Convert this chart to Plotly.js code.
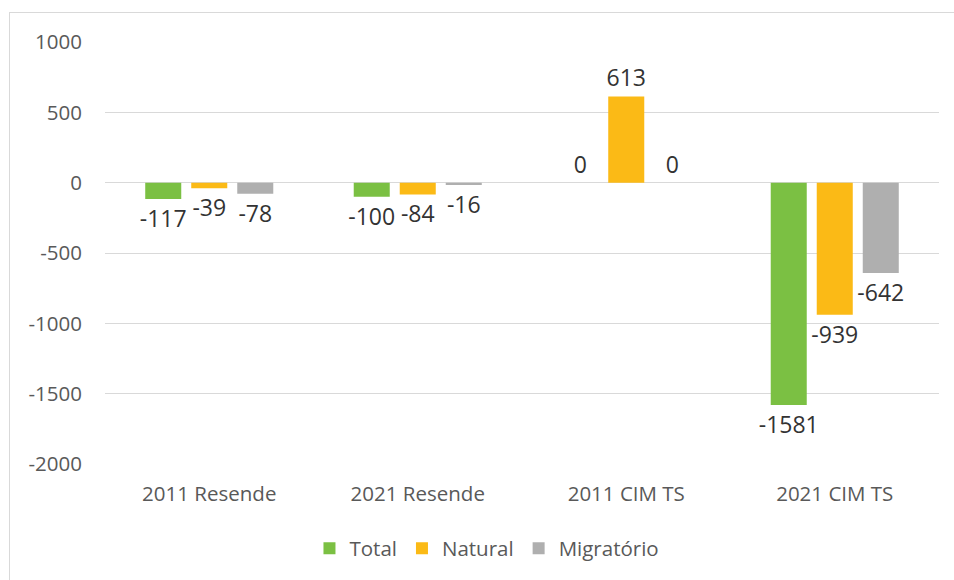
<!DOCTYPE html>
<html>
<head>
<meta charset="utf-8">
<script src="https://cdn.plot.ly/plotly-3.0.1.min.js"></script>
<style>
  html, body { margin: 0; padding: 0; background: #fff; }
  #chart { width: 954px; height: 580px; }
  #frame { position: absolute; left: 9px; top: 12px; width: 960px; height: 600px;
           border: 1px solid #d9d9d9; pointer-events: none; }
</style>
</head>
<body>
<div id="chart"></div>
<div id="frame"></div>
<script>
const categories = ["2011 Resende", "2021 Resende", "2011 CIM TS", "2021 CIM TS"];
const totalValues = [-117, -100, 0, -1581];
const naturalValues = [-39, -84, 613, -939];
const migratorioValues = [-78, -16, 0, -642];
const seriesNames = ["Total", "Natural", "Migratório"];
const yTicks = [-2000, -1500, -1000, -500, 0, 500, 1000];

const colors = ["#7bc043", "#fbba16", "#afafaf"];
const seriesValues = [totalValues, naturalValues, migratorioValues];
const FONT = "'Open Sans', 'Noto Sans', sans-serif";

const traces = seriesValues.map((vals, i) => ({
  type: "bar",
  name: seriesNames[i],
  x: categories,
  y: vals,
  marker: { color: colors[i] },
  text: vals.map(v => String(v)),
  textposition: "outside",
  constraintext: "none",
  cliponaxis: false,
  textfont: { family: FONT, size: 23, color: "#333333" },
  hoverinfo: "x+y+name"
}));

const layout = {
  width: 954, height: 580,
  margin: { l: 105, r: 15, t: 42, b: 116 },
  paper_bgcolor: "#ffffff",
  plot_bgcolor: "#ffffff",
  barmode: "group",
  bargap: 0.338,
  bargroupgap: 0.217,
  font: { family: FONT, color: "#595959" },
  xaxis: {
    type: "category",
    showgrid: false,
    showline: false,
    zeroline: false,
    ticks: "",
    tickfont: { size: 20.5, color: "#595959" },
    ticklabelstandoff: 15
  },
  yaxis: {
    range: [-2000, 1000],
    tickvals: yTicks,
    ticktext: yTicks.map(String),
    showgrid: true,
    gridcolor: "#d9d9d9",
    gridwidth: 1,
    zeroline: true,
    zerolinecolor: "#d9d9d9",
    zerolinewidth: 1,
    showline: false,
    ticks: "",
    tickfont: { size: 20.5, color: "#595959" },
    ticklabelstandoff: 22
  },
  legend: {
    orientation: "h",
    x: 0.458, xanchor: "center",
    y: -0.2, yanchor: "middle",
    font: { size: 20.5, color: "#595959" },
    itemwidth: 30,
    traceorder: "normal"
  },
  showlegend: true
};

Plotly.newPlot("chart", traces, layout, { displayModeBar: false, staticPlot: true });
</script>
</body>
</html>
